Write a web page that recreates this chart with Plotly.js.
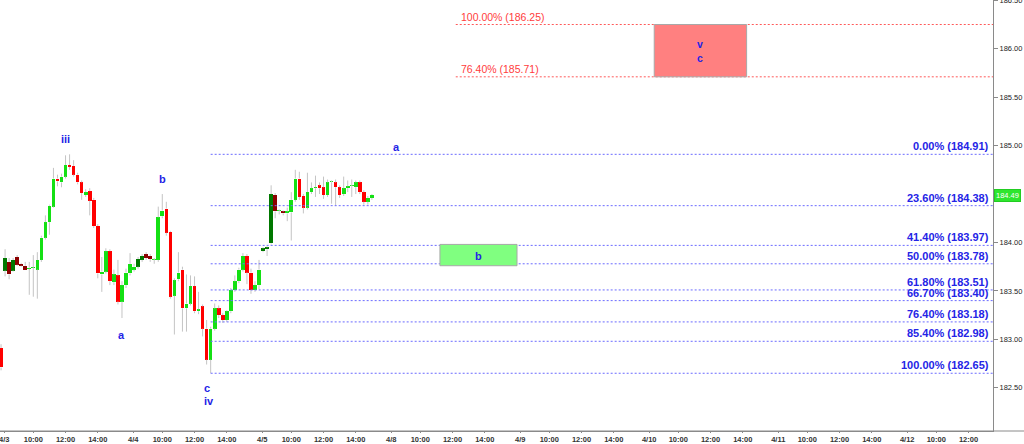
<!DOCTYPE html>
<html>
<head>
<meta charset="utf-8">
<script src="https://cdn.plot.ly/plotly-3.0.1.min.js"></script>
<style>html,body{margin:0;padding:0;background:#fff;}#chart{width:1024px;height:444px;}</style>
</head>
<body>
<div id="chart"></div>
<script>
// ---- data ----
const days = ['4/3','4/4','4/5','4/8','4/9','4/10','4/11','4/12'];
const hourLabels = ['10:00','12:00','14:00'];
const priceTicks = [182.5, 183.0, 183.5, 184.0, 185.0, 185.5, 186.0, 186.5]; // 184.50 hidden by last-price tag
// 15-minute bars, session 08:00-16:00 (32 bars per day), starting 4/3 08:00
const open = [182.91,183.71,183.80,183.71,183.85,183.78,183.76,183.73,183.74,183.72,
183.82,184.05,184.21,184.37,184.66,184.62,184.68,184.80,184.79,184.70,
184.62,184.49,184.53,184.44,184.17,183.67,183.70,183.91,183.59,183.66,
183.39,183.56,183.68,183.72,183.75,183.82,183.88,183.86,183.82,183.82,
184.27,184.35,184.11,183.45,183.62,183.72,183.32,183.37,183.55,183.29,
183.34,183.11,182.79,183.11,183.32,183.25,183.20,183.29,183.51,183.60,
183.72,183.86,183.69,183.51,183.56,183.91,183.93,183.99,184.49,184.32,
184.32,184.30,184.31,184.44,184.66,184.48,184.36,184.52,184.56,184.59,
184.57,184.49,184.62,184.62,184.57,184.50,184.56,184.58,184.57,184.62,
184.52,184.42,184.46];
const high = [182.95,183.93,183.84,183.84,183.87,183.79,183.80,183.80,183.87,183.90,
184.07,184.28,184.39,184.77,184.70,184.71,184.90,184.91,184.85,184.72,
184.64,184.55,184.56,184.46,184.19,183.85,183.94,183.93,183.72,183.82,
183.60,183.73,183.89,183.78,183.85,183.88,183.90,183.88,183.84,184.37,
184.50,184.42,184.12,183.63,183.90,183.75,183.67,183.66,183.65,183.49,
183.36,183.20,183.13,183.37,183.35,183.27,183.30,183.53,183.66,183.74,
183.89,183.88,183.73,183.60,183.82,183.95,183.96,184.59,184.51,184.34,
184.33,184.36,184.52,184.75,184.73,184.50,184.72,184.62,184.69,184.62,
184.68,184.65,184.64,184.65,184.59,184.68,184.64,184.65,184.64,184.64,
184.54,184.48,184.50];
const low = [182.68,183.65,183.62,183.70,183.76,183.75,183.72,183.46,183.44,183.42,
183.80,184.03,184.08,184.36,184.58,184.57,184.66,184.75,184.68,184.60,
184.44,184.47,184.28,184.15,183.63,183.49,183.68,183.56,183.56,183.36,
183.22,183.53,183.66,183.70,183.73,183.80,183.82,183.80,183.78,183.80,
184.25,184.07,183.42,183.05,183.60,183.08,183.08,183.35,183.27,183.26,
183.03,182.74,182.65,183.09,183.22,183.17,183.18,183.27,183.49,183.58,
183.70,183.57,183.47,183.49,183.52,183.90,183.86,183.98,184.25,184.29,
184.28,184.22,184.02,184.42,184.44,184.30,184.34,184.50,184.47,184.50,
184.45,184.47,184.40,184.38,184.46,184.48,184.52,184.47,184.50,184.50,
184.39,184.39,184.44];
const close = [182.71,183.84,183.67,183.82,183.77,183.76,183.72,183.74,183.74,183.82,
184.05,184.21,184.38,184.66,184.63,184.68,184.80,184.78,184.70,184.62,
184.51,184.52,184.43,184.17,183.68,183.70,183.91,183.60,183.67,183.39,
183.56,183.69,183.78,183.75,183.83,183.86,183.84,183.83,183.82,184.26,
184.33,184.10,183.44,183.61,183.69,183.32,183.37,183.55,183.29,183.31,
183.11,182.79,183.11,183.32,183.25,183.20,183.29,183.51,183.60,183.72,
183.86,183.69,183.51,183.56,183.72,183.94,183.95,184.50,184.32,184.32,
184.30,184.32,184.44,184.66,184.47,184.36,184.52,184.56,184.57,184.56,
184.49,184.62,184.62,184.57,184.49,184.56,184.58,184.58,184.62,184.52,
184.42,184.46,184.49];
const extendedHoursBars = [1,2,3,4,5,6,34,35,36,37,65,66,67,68,70];

const fibPct = ['0.00%','23.60%','41.40%','50.00%','61.80%','66.70%','76.40%','85.40%','100.00%'];
const fibVal = [184.91,184.38,183.97,183.78,183.51,183.40,183.18,182.98,182.65];
const extPct = ['100.00%','76.40%'];
const extVal = [186.25,185.71];
const zoneB = [183.76, 183.98];   // green target zone
const zoneVC = [185.71, 186.25];  // red target zone

// ---- helpers ----
const barsPerDay = 32, hoursPerDay = 8;
const xOf = i => Math.floor(i / barsPerDay) * hoursPerDay + (i % barsPerDay) * 0.25;
const dayX = (d, h) => d * hoursPerDay + h;   // h = hours after 08:00

const N = open.length;
const xs = [], base = [], hgt = [], cols = [], wx = [], wy = [];
const isExt = new Set(extendedHoursBars);
for (let i = 0; i < N; i++) {
  const x = xOf(i);
  xs.push(x);
  const lo = Math.min(open[i], close[i]);
  const hi = Math.max(open[i], close[i]);
  base.push(lo);
  hgt.push(Math.max(hi - lo, 0.011));
  const up = close[i] >= open[i];
  cols.push(isExt.has(i) ? (up ? '#007800' : '#8c0000') : (up ? '#14e014' : '#ff0000'));
  // wicks: only the parts outside the body (bars render beneath line traces)
  if (high[i] > hi) { wx.push(x, x, null); wy.push(hi, high[i], null); }
  if (low[i] < lo) { wx.push(x, x, null); wy.push(low[i], lo, null); }
}

const tickvals = [], ticktext = [];
days.forEach((d, k) => {
  tickvals.push(dayX(k, 0.2)); ticktext.push(d);
  hourLabels.forEach((h, j) => { tickvals.push(dayX(k, 2 + 2 * j)); ticktext.push(h); });
});

const xMin = -0.065, xMax = 61.52;
const blue = '#2424e6';
const font = 'Liberation Sans, Arial, sans-serif';

const shapes = [];
const annotations = [];
const lowBarX = xOf(low.indexOf(Math.min(...low)));
fibVal.forEach((v, k) => {
  shapes.push({type:'line', xref:'x', yref:'y', x0: lowBarX, x1: xMax, y0: v, y1: v,
    line:{color:'#6b6bff', width:1, dash:'2px,2px'}});
  annotations.push({xref:'paper', yref:'y', x: 0.997, y: v, xanchor:'right', yanchor:'bottom',
    text: fibPct[k] + ' (' + v.toFixed(2) + ')', showarrow:false, borderpad:0, yshift:1,
    font:{family:font, size:11, color:blue, weight:'bold'}});
});
const extStart = dayX(3, 4.2);
extVal.forEach((v, k) => {
  shapes.push({type:'line', xref:'x', yref:'y', x0: extStart, x1: xMax, y0: v, y1: v,
    line:{color:'#ff5a5a', width:1, dash:'2px,2px'}});
  annotations.push({xref:'x', yref:'y', x: extStart + 0.25, y: v, xanchor:'left', yanchor:'bottom',
    text: extPct[k] + ' (' + v.toFixed(2) + ')', showarrow:false, borderpad:0, yshift:1,
    font:{family:font, size:10.5, color:'#ff3c3c'}});
});
// target zones
const bX0 = dayX(3, 3.22), bX1 = dayX(4, 0);
shapes.push({type:'rect', xref:'x', yref:'y', x0:bX0, x1:bX1, y0:zoneB[0], y1:zoneB[1],
  fillcolor:'#80ff80', line:{color:'#a8a8a8', width:1}});
const rX0 = dayX(5, 0.51), rX1 = dayX(5, 6.24);
shapes.push({type:'rect', xref:'x', yref:'y', x0:rX0, x1:rX1, y0:zoneVC[0], y1:zoneVC[1],
  fillcolor:'#ff8080', line:{color:'#a8a8a8', width:1}});
// x axis line continues under the price scale
shapes.push({type:'line', xref:'paper', yref:'paper', x0:0, x1:1.04, y0:0, y1:0,
  line:{color:'#8a8a8a', width:1}});

const lbl = (text, x, y, ys, size) => ({xref:'x', yref:'y', x, y, text, showarrow:false,
  xanchor:'center', yanchor:'middle', yshift: ys || 0,
  font:{family:font, size: size || 11, color:blue, weight:'bold'}});
annotations.push(lbl('iii', (xOf(16) + xOf(17)) / 2 - 0.1, high[17], 15));
annotations.push(lbl('b', xOf(40), high[40], 15));
annotations.push(lbl('a', xOf(30), low[30], -17));
annotations.push(lbl('c', xOf(52) - 0.2, low[52], -15));
annotations.push(lbl('iv', xOf(52) - 0.1, low[52], -28));
annotations.push(lbl('a', dayX(3, 0.55), fibVal[0], 7));
annotations.push(lbl('b', (bX0 + bX1) / 2, (zoneB[0] + zoneB[1]) / 2, -1));
annotations.push(lbl('v', (rX0 + rX1) / 2, (zoneVC[0] + zoneVC[1]) / 2, 7, 10.5));
annotations.push(lbl('c', (rX0 + rX1) / 2, (zoneVC[0] + zoneVC[1]) / 2, -7, 10.5));
// last price marker
annotations.push({xref:'paper', yref:'y', x:1, y: close[N - 1], xanchor:'left', yanchor:'middle',
  xshift:1, text: close[N - 1].toFixed(2), showarrow:false, bgcolor:'#2ee62e', bordercolor:'#22cc22',
  borderwidth:1, borderpad:1, font:{family:font, size:7.5, color:'#ffffff'}});

const traces = [
  {type:'scatter', mode:'lines', x: wx, y: wy, line:{color:'#c4c4c4', width:1},
   hoverinfo:'skip', connectgaps:false},
  {type:'bar', x: xs, y: hgt, base: base, width: 0.225,
   marker:{color: cols, line:{width:0}}, hoverinfo:'skip'}
];

const layout = {
  width:1024, height:444,
  margin:{l:0, r:31, t:0, b:13, pad:0},
  paper_bgcolor:'#ffffff', plot_bgcolor:'#ffffff',
  showlegend:false, bargap:0,
  xaxis:{type:'linear', range:[xMin, xMax], tickmode:'array', tickvals, ticktext,
    showgrid:false, zeroline:false, showline:true, linecolor:'#8a8a8a', linewidth:1,
    ticks:'outside', ticklen:1, tickcolor:'#8a8a8a', fixedrange:true, ticklabeloverflow:'allow',
    tickfont:{family:font, size:7.5, color:'#333333', weight:'bold'}},
  yaxis:{side:'right', range:[182.054, 186.503], tickmode:'array', tickvals: priceTicks,
    ticktext: priceTicks.map(v => v.toFixed(2)), ticklabeloverflow:'allow',
    showgrid:false, zeroline:false, showline:true, linecolor:'#8a8a8a', linewidth:1,
    ticks:'outside', ticklen:4, tickcolor:'#8a8a8a', fixedrange:true,
    tickfont:{family:font, size:7.5, color:'#222222'}},
  shapes, annotations
};

Plotly.newPlot('chart', traces, layout, {staticPlot:true, displayModeBar:false});
</script>
</body>
</html>
